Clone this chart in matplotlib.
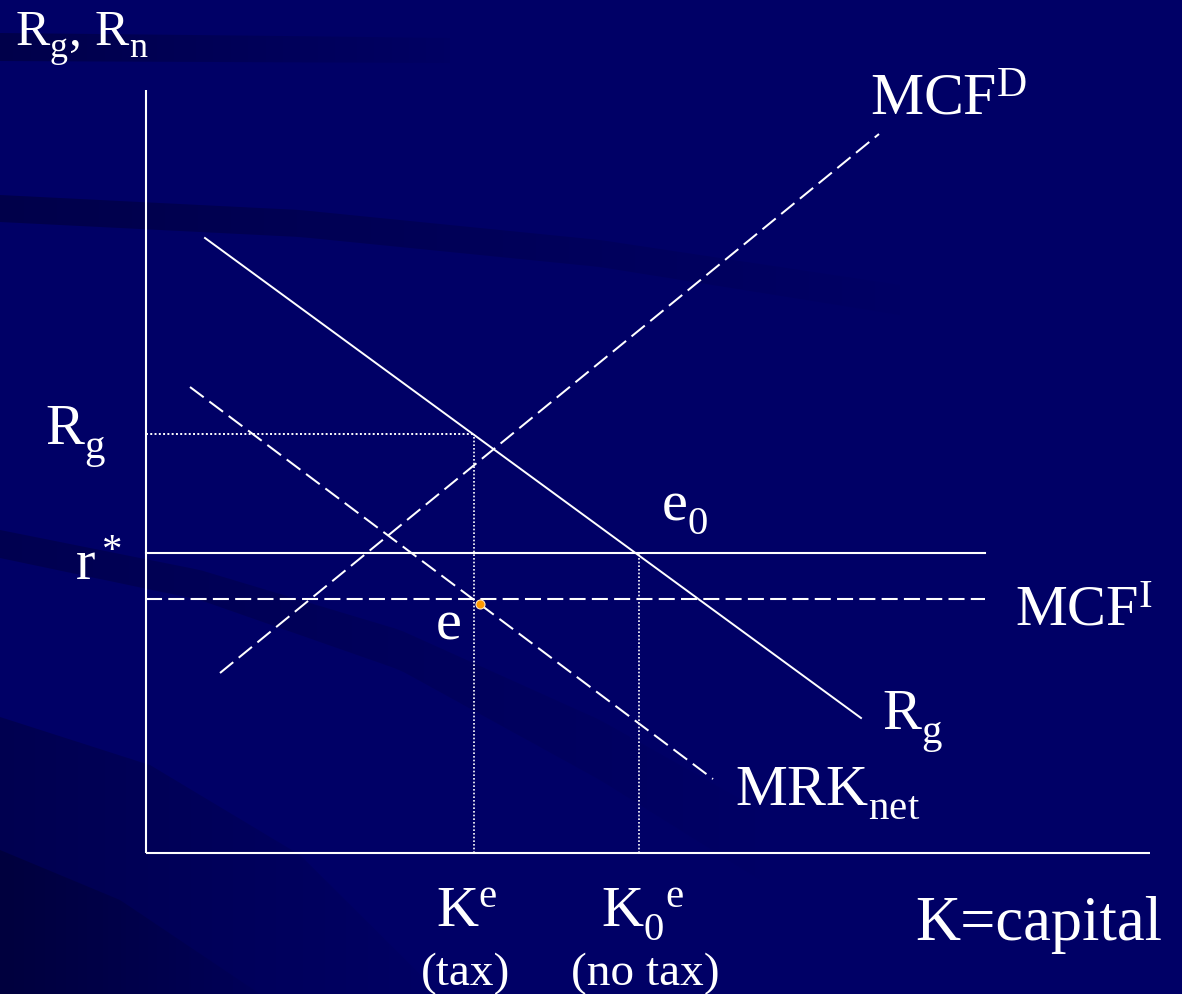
import numpy as np
import matplotlib
matplotlib.use('Agg')
import matplotlib.pyplot as plt
import matplotlib._mathtext as mt
from matplotlib.path import Path
from matplotlib.patches import PathPatch

# font chữ kiểu Times
plt.rcParams['font.family'] = ['Liberation Serif', 'DejaVu Serif']
plt.rcParams['mathtext.fontset'] = 'custom'
plt.rcParams['mathtext.rm'] = 'Liberation Serif'
plt.rcParams['mathtext.it'] = 'Liberation Serif'
plt.rcParams['mathtext.bf'] = 'Liberation Serif'
plt.rcParams['mathtext.default'] = 'rm'
# hạ chỉ số dưới xuống thấp hơn (giống PowerPoint)
mt.FontConstantsBase.sub1 = 0.55
mt.FontConstantsBase.sub2 = 0.55

#--------------------------------------------------------
# dữ liệu của đồ thị (trục K = vốn, trục R = lợi suất)
#--------------------------------------------------------
Rg_K = [5.9, 71.5]          # đường Rg (liền)
Rg_R = [61.5, 13.5]
MRK_K = [4.4, 56.7]         # đường MRK_net (nét đứt)
MRK_R = [46.6, 7.4]
MCFD_K = [7.4, 73.3]        # đường MCF^D (nét đứt)
MCFD_R = [18.0, 71.9]
r_sao = 30.0                # mức r*
MCFI_muc = 25.4             # mức MCF^I
Rg_muc = 41.9               # mức Rg tại K^e
K_e = 32.8                  # K^e (có thuế)
K0_e = 49.3                 # K0^e (không thuế)
e_diem = (33.4, 24.9)       # điểm cân bằng e
K_ngang_max = 83.9          # độ dài 2 đường ngang
K_truc_max = 100.4          # độ dài trục K
R_truc_max = 76.3           # độ dài trục R

mau_nen = '#000066'
trang = 'white'


# vẽ các vệt tối mờ trên nền
def VeVet(ax, xs, tren, duoi, a0, xend):
    xx = np.linspace(xs[0], xs[-1], 80)
    yt = np.interp(xx, xs, tren)
    yd = np.interp(xx, xs, duoi)
    verts = np.concatenate([np.c_[xx, yt], np.c_[xx[::-1], yd[::-1]]])
    patch = PathPatch(Path(verts), facecolor='none', edgecolor='none')
    ax.add_patch(patch)
    X = np.linspace(0, 1182, 400)
    grad = np.zeros((1, 400, 4))
    grad[..., 2] = 0.16
    grad[..., 3] = a0 * np.clip(1 - X / xend, 0, 1)
    im = ax.imshow(grad, extent=(0, 1182, 994, 0), aspect='auto',
                   interpolation='bilinear', zorder=0)
    im.set_clip_path(patch)


fig = plt.figure(figsize=(11.82, 9.94), dpi=100, facecolor=mau_nen)

nen = fig.add_axes([0, 0, 1, 1])
nen.set_xlim(0, 1182)
nen.set_ylim(994, 0)
nen.axis('off')
VeVet(nen, [0, 200, 450], [33, 35, 38], [61, 62, 63], 0.45, 500)
VeVet(nen, [0, 300, 600, 900], [195, 210, 240, 285], [222, 237, 267, 315], 0.45, 950)
VeVet(nen, [0, 200, 400, 600, 760], [530, 570, 630, 720, 810], [558, 600, 670, 780, 880], 0.35, 800)
VeVet(nen, [0, 150, 300, 440], [717, 765, 855, 994], [994, 994, 994, 994], 0.35, 480)
VeVet(nen, [0, 120, 260], [850, 900, 994], [994, 994, 994], 0.45, 300)

ax = fig.add_axes([0, 0, 1, 1], zorder=1)
ax.patch.set_alpha(0)
ax.set_xlim(-14.6, 103.6)
ax.set_ylim(-14.1, 85.3)
ax.axis('off')

# trục tọa độ
ax.plot([0, 0], [0, R_truc_max], color=trang, lw=1.5, solid_capstyle='butt')
ax.plot([0, K_truc_max], [0, 0], color=trang, lw=1.5, solid_capstyle='butt')

# các đường chính
ax.plot(Rg_K, Rg_R, color=trang, lw=1.4)
ax.plot(MRK_K, MRK_R, color=trang, lw=1.45, dashes=(8.5, 3.5))
ax.plot(MCFD_K, MCFD_R, color=trang, lw=1.45, dashes=(8.5, 3.5))
ax.plot([0, K_ngang_max], [r_sao, r_sao], color=trang, lw=1.5)
ax.plot([0, K_ngang_max], [MCFI_muc, MCFI_muc], color=trang, lw=1.5, dashes=(7.7, 3))

# các đường chấm
ax.plot([0, K_e], [Rg_muc, Rg_muc], color=trang, lw=1.4, linestyle=(0, (1, 1.2)))
ax.plot([K_e, K_e], [0, Rg_muc], color=trang, lw=1.2, linestyle=(0, (1, 1.2)))
ax.plot([K0_e, K0_e], [0, r_sao], color=trang, lw=1.2, linestyle=(0, (1, 1.2)))

# điểm e
ax.plot([e_diem[0]], [e_diem[1]], 'o', color='#FF9900', markersize=6.5,
        markeredgecolor='#ffe6c0', markeredgewidth=0.8, zorder=5)

# chữ
to = 42
ax.text(-13.1, 80.8, 'R$_g$, R$_n$', color=trang, fontsize=37, va='baseline')
ax.text(72.4, 73.8, 'MCF$^D$', color=trang, fontsize=43, va='baseline')
ax.text(-10.1, 40.8, 'R$_g$', color=trang, fontsize=to, va='baseline')
ax.text(-7.1, 27.3, 'r$^*$', color=trang, fontsize=to, va='baseline')
ax.text(51.5, 33.3, 'e$_0$', color=trang, fontsize=to, va='baseline')
ax.text(29.0, 21.3, 'e', color=trang, fontsize=to, va='baseline')
ax.text(86.9, 22.8, 'MCF$^I$', color=trang, fontsize=to, va='baseline')
ax.text(73.6, 12.3, 'R$_g$', color=trang, fontsize=to, va='baseline')
ax.text(58.9, 4.8, 'MRK$_{net}$', color=trang, fontsize=to, va='baseline')
ax.text(29.0, -7.3, 'K$^e$', color=trang, fontsize=to, va='baseline')
ax.text(45.5, -7.3, 'K$_0$$^e$', color=trang, fontsize=to, va='baseline')
ax.text(32.0, -13.2, '(tax)', color=trang, fontsize=34, va='baseline', ha='center')
ax.text(49.9, -13.2, '(no tax)', color=trang, fontsize=34, va='baseline', ha='center')
ax.text(76.9, -8.7, 'K=capital', color=trang, fontsize=45, va='baseline')

fig.savefig('out.png', dpi=100, facecolor=mau_nen)
